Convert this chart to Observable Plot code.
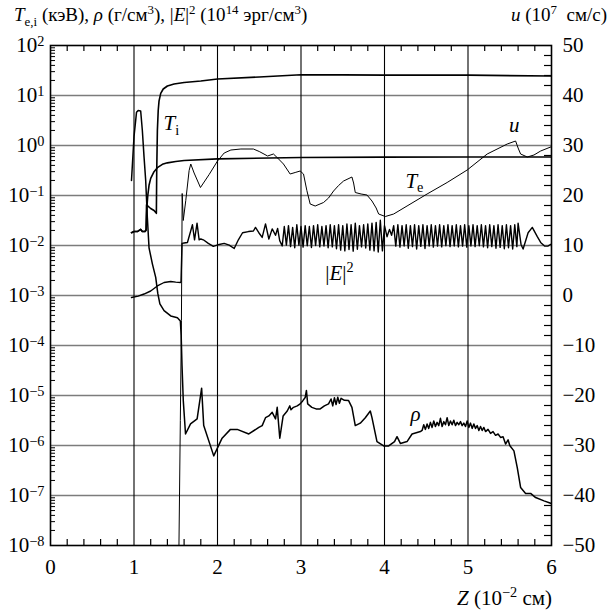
<!DOCTYPE html>
<html><head><meta charset="utf-8">
<script src="https://cdn.jsdelivr.net/npm/d3@7"></script>
<script src="https://cdn.jsdelivr.net/npm/@observablehq/plot@0.6"></script>
<style>
body{margin:0;background:#fff;}
#wrap{position:relative;width:613px;height:614px;font-family:"Liberation Serif","Times New Roman","DejaVu Serif",serif;color:#000;}
.t{position:absolute;white-space:nowrap;font-size:19px;line-height:1;}
.t sub,.t sup{font-size:0.68em;line-height:0;}
#chart{position:absolute;left:0;top:0;}
#chart svg, #chart svg text{font-family:"Liberation Serif","Times New Roman","DejaVu Serif",serif !important;}
</style></head><body>
<div id="wrap">
<div id="chart"></div>
<div class="t" style="left:14px;top:5px;"><i>T</i><sub>e,i</sub> (кэВ), <i>ρ</i> (г/см<sup>3</sup>), |<i>E</i>|<sup>2</sup> (10<sup>14</sup> эрг/см<sup>3</sup>)</div>
<div class="t" style="right:6px;top:5px;"><i>u</i> (10<sup>7</sup>&nbsp; см/с)</div>
<div class="t" style="right:61px;top:588px;font-size:21px;"><i>Z</i> (10<sup>−2</sup> см)</div>
</div>
<script>
// ---------- data (x = Z in 10^-2 cm) ----------
const tiX = [0.97,1.0,1.04,1.08,1.1,1.13,1.145,1.15,1.2,1.24,1.268,1.272,1.28,1.29,1.3,1.32,1.35,1.4,1.48,1.6,1.8,2.0,2.5,3.0,3.5,4.0,5.0,6.0];
const tiV = [0.018,0.019,0.019,0.021,0.019,0.019,0.021,0.065,0.055,0.05,0.044,0.3,2,5,7.8,11,13.5,15.5,17,18.2,19.5,21.4,23.5,26,25.8,25.6,25.5,24.5];

const teX = [0.97,1.0,1.04,1.08,1.1,1.13,1.145,1.155,1.165,1.18,1.2,1.24,1.28,1.34,1.4,1.5,1.6,2.0,3.0,4.0,5.0,6.0];
const teV = [0.018,0.019,0.019,0.021,0.019,0.019,0.02,0.06,0.1,0.16,0.22,0.3,0.36,0.42,0.45,0.48,0.5,0.54,0.575,0.585,0.59,0.59];

const rhoX = [0.97,1.0,1.03,1.05,1.08,1.1,1.12,1.14,1.16,1.18,1.22,1.26,1.285,1.31,1.36,1.44,1.52,1.555,1.565,1.575,1.59,1.617,1.677,1.756,1.81,1.835,1.955,2.055,2.155,2.236,2.375,2.495,2.535,2.575,2.615,2.655,2.695,2.715,2.746,2.786,2.835,2.866,2.88,2.91,2.955,2.99,3.02,3.05,3.065,3.08,3.13,3.18,3.23,3.28,3.33,3.36,3.38,3.4,3.42,3.44,3.46,3.48,3.52,3.57,3.61,3.65,3.71,3.77,3.83,3.85,3.91,3.99,4.05,4.12,4.15,4.19,4.27,4.33,4.38,4.43,4.45,4.47,4.49,4.51,4.53,4.55,4.57,4.59,4.61,4.63,4.65,4.67,4.69,4.71,4.73,4.75,4.77,4.79,4.81,4.83,4.85,4.87,4.89,4.91,4.93,4.95,4.97,4.99,5.01,5.03,5.05,5.07,5.09,5.11,5.13,5.15,5.17,5.19,5.21,5.24,5.27,5.30,5.33,5.36,5.39,5.42,5.45,5.48,5.5,5.55,5.59,5.63,5.69,5.75,5.81,5.91,6.0];
const rhoV = [0.2,1.5,4.6,5.0,4.9,2.0,0.6,0.2,0.036,0.009,0.0043,0.0023,0.0011,0.00068,0.0005,0.00039,0.00036,0.00031,0.00016,0.00004,0.000008,1.7e-6,2.7e-6,3.4e-6,1.4e-5,2.5e-6,6.2e-7,1.4e-6,2.1e-6,2.1e-6,1.7e-6,2.3e-6,2.5e-6,3.6e-6,3.9e-6,4.6e-6,3.4e-6,5.8e-6,1.4e-6,3.9e-6,4.9e-6,6.2e-6,5.2e-6,5.8e-6,6.2e-6,6.8e-6,7.8e-6,9.1e-6,1.26e-5,6.8e-6,5.8e-6,5.4e-6,5.4e-6,6.2e-6,6.8e-6,8.5e-6,6.2e-6,9.0e-6,6.6e-6,9.2e-6,7.0e-6,8.8e-6,8.0e-6,7.9e-6,5.8e-6,2.5e-6,2.8e-6,3.6e-6,4.9e-6,3.6e-6,1.2e-6,9.8e-7,9.8e-7,1.2e-6,1.5e-6,1.1e-6,1.2e-6,1.7e-6,1.8e-6,1.9e-6,2.0e-6,2.6e-6,2.1e-6,2.7e-6,2.2e-6,2.9e-6,2.3e-6,3.1e-6,2.4e-6,2.9e-6,2.5e-6,3.5e-6,2.4e-6,3.0e-6,2.6e-6,3.6e-6,2.5e-6,3.1e-6,2.6e-6,3.2e-6,2.5e-6,2.9e-6,2.6e-6,3.0e-6,2.5e-6,2.8e-6,2.4e-6,3.1e-6,2.3e-6,2.8e-6,2.2e-6,2.7e-6,2.2e-6,2.5e-6,2.0e-6,2.4e-6,2.0e-6,2.3e-6,1.9e-6,2.1e-6,1.75e-6,1.9e-6,1.6e-6,1.7e-6,1.45e-6,1.5e-6,1.07e-6,1.3e-6,1.0e-6,7.8e-7,3.6e-7,1.45e-7,1.1e-7,1.1e-7,9.1e-8,7.8e-8,6.9e-8];

const e2X = [0.97,1.05,1.12,1.2,1.28,1.36,1.44,1.5,1.557,1.563,1.575,1.6,1.64,1.70,1.725,1.755,1.78,1.80,1.83,1.89,1.95,2.02,2.08,2.14,2.2,2.25,2.3,2.37,2.43,2.455,2.495,2.535,2.575,2.615,2.655,2.695,2.72,2.745,2.775,
 2.800,2.825,2.850,2.875,2.900,2.925,2.950,2.975,3.000,3.025,3.050,3.075,3.100,3.125,3.150,3.175,3.200,3.225,3.250,3.275,3.300,3.325,3.350,3.375,3.400,3.425,3.450,3.475,3.500,3.525,3.550,3.575,3.600,3.625,3.650,3.675,3.700,3.725,3.750,3.775,3.800,3.825,3.850,3.875,3.900,3.925,3.950,3.975,
 4.000,4.030,4.060,4.085,4.110,4.135,4.160,4.185,4.210,4.235,4.260,4.285,4.310,4.335,4.360,4.385,4.410,4.435,4.460,4.485,4.510,4.535,4.560,4.585,4.610,4.635,4.660,4.685,4.710,4.735,4.760,4.785,4.810,4.835,4.860,4.885,4.910,4.935,4.960,4.985,
 5.010,5.035,5.060,5.085,5.110,5.135,5.160,5.185,5.210,5.235,5.260,5.285,5.310,5.335,5.360,5.385,5.410,5.435,5.460,5.485,5.510,5.535,5.560,5.585,5.600,5.635,5.660,5.720,5.770,5.830,5.870,5.920,5.960,6.000];
const e2V = [0.00091,0.00097,0.00107,0.00123,0.00155,0.00182,0.0019,0.00185,0.00182,0.0019,0.011,0.0112,0.0115,0.026,0.013,0.028,0.013,0.0135,0.013,0.011,0.0096,0.0105,0.011,0.0102,0.0087,0.013,0.018,0.019,0.0195,0.023,0.018,0.0145,0.027,0.0135,0.0215,0.016,0.022,0.0125,0.0098,
 0.024,0.0102,0.025,0.0095,0.023,0.0090,0.026,0.0101,0.024,0.0093,0.025,0.0099,0.024,0.0091,0.025,0.0100,0.026,0.0094,0.024,0.0098,0.025,0.0090,0.026,0.0094,0.025,0.0086,0.026,0.0081,0.025,0.0078,0.027,0.0083,0.026,0.0077,0.028,0.0084,0.025,0.0094,0.026,0.0089,0.027,0.0081,0.028,0.0078,0.029,0.0074,0.032,0.0078,
 0.025,0.015,0.021,0.016,0.025,0.0097,0.026,0.0093,0.025,0.0098,0.026,0.0088,0.025,0.0095,0.026,0.0085,0.025,0.0096,0.026,0.0087,0.025,0.0098,0.026,0.0093,0.025,0.0097,0.026,0.0094,0.025,0.0099,0.026,0.0095,0.025,0.0098,0.026,0.0094,0.025,0.0097,0.026,0.0093,
 0.025,0.0098,0.026,0.0095,0.025,0.0099,0.026,0.0094,0.025,0.0090,0.026,0.0095,0.025,0.0088,0.026,0.0092,0.025,0.0086,0.026,0.0090,0.025,0.0085,0.026,0.0095,0.028,0.0105,0.0085,0.018,0.023,0.015,0.0115,0.0097,0.0098,0.0107];

// u, 10^7 cm/s (right axis)
const uX = [1.535,1.555,1.568,1.577,1.59,1.62,1.66,1.68,1.72,1.796,1.9,2.0,2.08,2.16,2.28,2.43,2.5,2.6,2.67,2.72,2.79,2.87,2.93,2.99,3.03,3.07,3.11,3.17,3.27,3.33,3.39,3.45,3.51,3.61,3.63,3.65,3.72,3.79,3.85,3.9,3.93,4.01,4.11,4.27,4.51,4.75,4.99,5.23,5.47,5.57,5.6,5.63,5.71,5.79,5.87,5.99];
const uV = [-55,-25,-5,20.4,15,19,25,26.3,24.5,21.6,24.2,26.9,28.5,29.1,29.3,29.3,28.8,27.9,28.3,27.5,26.3,24.3,24.6,24.9,24.3,21,18.3,17.9,18.6,19.5,20.9,22.0,22.9,23.7,22.5,20.6,20.3,20.1,18.9,17.5,16.3,15.8,16.3,17.9,20.3,22.6,25.1,28.3,30.3,30.9,29.5,28.3,27.7,28.1,28.9,29.7];

// axes / ticks
const xTicks = [0,1,2,3,4,5,6];
const xGrid = [1,2,3,4,5];
const yDecades = [-8,-7,-6,-5,-4,-3,-2,-1,0,1,2];
const uTicks = [-50,-40,-30,-20,-10,0,10,20,30,40,50];

// in-plot labels (data coordinates)
const labelKeys = ["Ti","u","Te","E2","rho"];
const labelX = [1.353,5.49,4.25,3.29,4.31];
const labelY = [2.84,2.5,0.197,0.00284,4.3e-6];

// ---------- helpers ----------
const FONT = '"Liberation Serif","Times New Roman","DejaVu Serif",serif';
const uToY = u => 10 ** (u / 10 - 3);
const zip = (xs, ys) => xs.map((x, i) => ({x, y: ys[i]}));
const ti = zip(tiX, tiV), te = zip(teX, teV), rho = zip(rhoX, rhoV), e2 = zip(e2X, e2V);
const uData = uX.map((x, i) => ({x, y: uToY(uV[i])}));
const labels = labelKeys.map((k, i) => ({k, x: labelX[i], y: labelY[i]}));

const xMinor = d3.range(0, 6.001, 0.2).map(v => +v.toFixed(2)).filter(v => Math.abs(v - Math.round(v)) > 1e-6);
const yMinor = [];
for (let k = -8; k < 2; k++) for (let m = 2; m <= 9; m++) yMinor.push(m * 10 ** k);
const uMinor = d3.range(-48, 49, 2).filter(u => u % 10 !== 0).map(uToY);

const W = 613, H = 614, mT = 45, mL = 50, mR = 62, mB = 69;
const fw = W - mL - mR, fh = H - mT - mB;
const sup = s => s.replace(/-/g, "−");

const plot = Plot.plot({
  width: W, height: H,
  marginTop: mT, marginLeft: mL, marginRight: mR, marginBottom: mB,
  style: {fontFamily: FONT, fontSize: "21px", background: "white", color: "black"},
  x: {domain: [0, 6], label: null},
  y: {type: "log", domain: [1e-8, 1e2], label: null},
  marks: [
    Plot.ruleY(yDecades.slice(1, -1).map(e => 10 ** e), {stroke: "#7c7c7c", strokeWidth: 1.7}),
    Plot.ruleX(xGrid, {stroke: "black", strokeWidth: 1.1}),
    // inward minor ticks
    Plot.ruleX(xMinor, {insetTop: fh - 6, stroke: "black", strokeWidth: 1.2}),
    Plot.ruleX(xMinor, {insetBottom: fh - 6, stroke: "black", strokeWidth: 1.2}),
    Plot.ruleY(yMinor, {insetRight: fw - 5, stroke: "black", strokeWidth: 1}),
    Plot.ruleY(uMinor, {insetLeft: fw - 7, stroke: "black", strokeWidth: 1.2}),
    // curves
    Plot.line(ti, {x: "x", y: "y", stroke: "black", strokeWidth: 1.6, clip: true}),
    Plot.line(te, {x: "x", y: "y", stroke: "black", strokeWidth: 1.6, clip: true}),
    Plot.line(rho, {x: "x", y: "y", stroke: "black", strokeWidth: 1.5, clip: true}),
    Plot.line(e2, {x: "x", y: "y", stroke: "black", strokeWidth: 1.4, clip: true}),
    Plot.line(uData, {x: "x", y: "y", stroke: "black", strokeWidth: 1.0, clip: true}),
    Plot.text(labels, {x: "x", y: "y", text: "k", textAnchor: "start", fontSize: 21, fontFamily: FONT}),
    Plot.frame({stroke: "black", strokeWidth: 1.6}),
    Plot.axisX(xTicks, {anchor: "bottom", label: null, tickSize: 0, tickPadding: 14, tickFormat: d => String(d), fontSize: 21, fontFamily: FONT}),
    Plot.axisY(yDecades.map(e => 10 ** e), {anchor: "left", label: null, tickSize: 0, tickPadding: 6, tickFormat: d => "10^" + sup(String(Math.round(Math.log10(d)))), fontSize: 21, fontFamily: FONT}),
    Plot.axisY(uTicks.map(uToY), {anchor: "right", label: null, tickSize: 0, tickPadding: 11, tickFormat: d => sup(String(Math.round((Math.log10(d) + 3) * 10))), fontSize: 21, fontFamily: FONT})
  ]
});

// rich text: superscripts on log tick labels, italics/subscripts on curve labels
const richLabels = {
  Ti: '<tspan font-style="italic">T</tspan><tspan font-size="0.68em" dy="0.35em">i</tspan>',
  Te: '<tspan font-style="italic">T</tspan><tspan font-size="0.68em" dy="0.35em">e</tspan>',
  u: '<tspan font-style="italic">u</tspan>',
  E2: '|<tspan font-style="italic">E</tspan>|<tspan font-size="0.68em" dy="-0.5em">2</tspan>',
  rho: '<tspan font-style="italic">ρ</tspan>'
};
d3.select(plot).selectAll("text").each(function () {
  const t = this.textContent;
  if (t.startsWith("10^")) {
    const e = t.slice(3);
    this.textContent = "10";
    d3.select(this).append("tspan").attr("dy", "-0.45em").attr("font-size", "0.68em").text(e);
  } else if (richLabels[t]) {
    this.innerHTML = richLabels[t];
  }
});
document.getElementById("chart").appendChild(plot);
</script>
</body></html>
